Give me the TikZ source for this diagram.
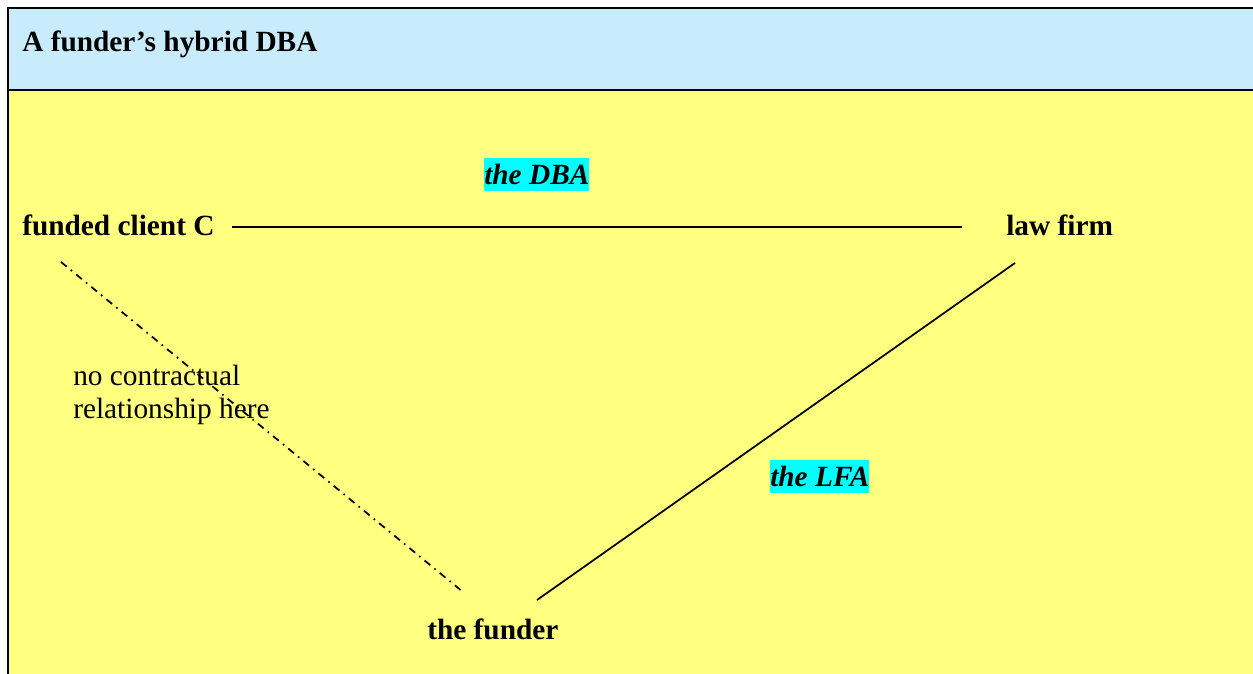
\documentclass[tikz,border=0pt]{standalone}
\usepackage{fontspec}
\setmainfont{Liberation Serif}
\definecolor{hdrblue}{HTML}{C9ECFC}
\definecolor{bgyellow}{HTML}{FFFF80}
\definecolor{lblcyan}{HTML}{00FFFF}
\begin{document}
\begin{tikzpicture}[x=0.75pt,y=-0.75pt,
  txt/.style={anchor=base west,inner sep=0pt,font=\fontsize{22}{25}\selectfont},
  bold/.style={txt,font=\fontsize{22}{25}\selectfont\bfseries},
  tag/.style={anchor=base west,inner sep=0pt,fill=lblcyan,text height=19.6pt,text depth=4.9pt,font=\fontsize{22}{25}\selectfont\bfseries\itshape},
  rel/.style={line width=1.3pt},
  norel/.style={line width=1.3pt,dash pattern=on 5.5pt off 4pt on 1.2pt off 4pt},
  frame/.style={line width=1.8pt}]
\useasboundingbox (0,0) rectangle (1253,674);
\fill[hdrblue] (8,8) rectangle (1253,90);
\fill[bgyellow] (8,90) rectangle (1253,674);
\draw[frame] (7,8) -- (1253,8);
\draw[frame] (8,90) -- (1253,90);
\draw[frame] (8,7.1) -- (8,674);
\node[bold] (title) at (22,52) {A funder’s hybrid DBA};
\node[bold] (client) at (22,235) {funded client C};
\node[bold] (firm) at (1006,235) {law firm};
\node[bold] (funder) at (427,639) {the funder};
\node[tag] (dba) at (484,184) {the DBA};
\node[tag] (lfa) at (770,486.5) {the LFA};
\node[txt,align=left,anchor=north west] (note) at (73,365) {no contractual\\relationship here};
\coordinate (c1) at (232,227);
\coordinate (f1) at (962,227);
\coordinate (c2) at (61,262);
\coordinate (u1) at (463,592);
\coordinate (f2) at (1015,263);
\coordinate (u2) at (537,600);
\draw[rel] (c1) -- (f1);
\draw[norel] (c2) -- (u1);
\draw[rel] (f2) -- (u2);
\end{tikzpicture}
\end{document}
